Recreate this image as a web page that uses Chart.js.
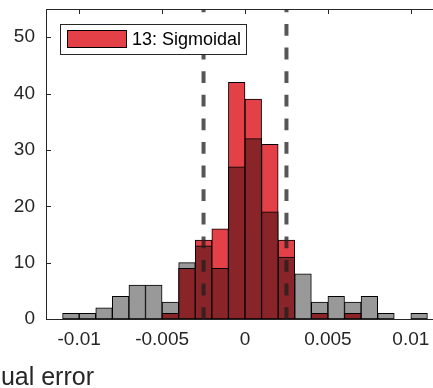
<!DOCTYPE html>
<html>
<head>
<meta charset="utf-8">
<script src="https://cdn.jsdelivr.net/npm/chart.js@4"></script>
<style>
  html, body { margin: 0; padding: 0; background: #fff; overflow: hidden; }
  #wrap { width: 433px; height: 388px; overflow: hidden; }
</style>
</head>
<body>
<div id="wrap"><canvas id="histChart" width="460" height="388"></canvas></div>
<script>
// histogram bins (centre of each 0.001 wide bin)
const binCenters = [-0.0105, -0.0095, -0.0085, -0.0075, -0.0065, -0.0055, -0.0045, -0.0035, -0.0025, -0.0015, -0.0005,
                    0.0005, 0.0015, 0.0025, 0.0035, 0.0045, 0.0055, 0.0065, 0.0075, 0.0085, 0.0095, 0.0105];
// grey: all models, red: 13 sigmoidal
const allCounts     = [1, 1, 2, 4, 6, 6, 3, 10, 13, 9, 27, 32, 19, 11, 8, 3, 4, 3, 4, 1, 0, 1];
const sigmoidCounts = [0, 0, 0, 0, 0, 0, 1, 9, 14, 16, 42, 39, 31, 14, 0, 1, 0, 1, 0, 0, 0, 0];
const thresholds = [-0.0025, 0.0025];

const xTicks = [-0.01, -0.005, 0, 0.005, 0.01];
const xTickLabels = ["-0.01", "-0.005", "0", "0.005", "0.01"];
const yTicks = [0, 10, 20, 30, 40, 50];
const seriesName = "13: Sigmoidal";
const xTitle = "Residual error";

const RED = "rgb(228,64,72)";
const DARK = "rgb(137,36,41)";
const GREY = "rgb(153,153,153)";
const AXIS = "#262626";
const FONT = "'Liberation Sans', Arial, sans-serif";

function toBars(counts) {
    return binCenters.map((c, i) => ({ x: c, y: counts[i] === 0 ? null : counts[i] }));
}
const overlap = allCounts.map((v, i) => Math.min(v, sigmoidCounts[i]));

function dashLine(v) {
    return {
        type: "line",
        data: [{ x: v, y: 0 }, { x: v, y: 55 }],
        borderColor: "rgba(30,30,30,0.75)",
        borderWidth: 4,
        borderDash: [11.8, 11.8],
        pointRadius: 0,
        order: 1
    };
}

// axes box, inward ticks, legend and the x label
const framePlugin = {
    id: "frame",
    beforeDatasetsDraw(chart) {
        const { ctx, chartArea: a, scales: { x, y } } = chart;
        ctx.save();
        ctx.strokeStyle = AXIS;
        ctx.lineWidth = 1;
        ctx.strokeRect(a.left + 0.5, a.top + 0.5, a.right - a.left, a.bottom - a.top);
        ctx.beginPath();
        xTicks.forEach(v => {
            const px = Math.round(x.getPixelForValue(v)) + 0.5;
            ctx.moveTo(px, a.bottom); ctx.lineTo(px, a.bottom - 5);
            ctx.moveTo(px, a.top); ctx.lineTo(px, a.top + 5);
        });
        yTicks.forEach(v => {
            const py = Math.round(y.getPixelForValue(v)) + 0.5;
            ctx.moveTo(a.left, py); ctx.lineTo(a.left + 5, py);
            ctx.moveTo(a.right, py); ctx.lineTo(a.right - 5, py);
        });
        ctx.stroke();
        ctx.restore();
    },
    afterDatasetsDraw(chart) {
        const { ctx, chartArea: a } = chart;
        const bx = a.left + 14, by = a.top + 15;
        ctx.save();
        ctx.fillStyle = "#fff";
        ctx.fillRect(bx, by, 186, 30);
        ctx.strokeStyle = AXIS;
        ctx.lineWidth = 1;
        ctx.strokeRect(bx + 0.5, by + 0.5, 186, 30);
        ctx.fillStyle = RED;
        ctx.fillRect(bx + 7, by + 6, 60, 18);
        ctx.strokeStyle = "#000";
        ctx.strokeRect(bx + 7.5, by + 6.5, 59, 17);
        ctx.fillStyle = "#000";
        ctx.font = "18px " + FONT;
        ctx.textBaseline = "middle";
        ctx.fillText(seriesName, bx + 72, by + 16);
        ctx.restore();
    },
    afterDraw(chart) {
        const ctx = chart.ctx;
        ctx.save();
        ctx.fillStyle = AXIS;
        ctx.font = "25px " + FONT;
        ctx.textAlign = "right";
        ctx.fillText(xTitle, 94, 385);
        ctx.restore();
    }
};

new Chart(document.getElementById("histChart"), {
    type: "bar",
    data: {
        datasets: [
            dashLine(thresholds[0]),
            dashLine(thresholds[1]),
            { label: "overlap", data: toBars(overlap), backgroundColor: DARK, order: 2 },
            { label: seriesName, data: toBars(sigmoidCounts), backgroundColor: RED, order: 3 },
            { label: "all", data: toBars(allCounts), backgroundColor: GREY, order: 4 }
        ]
    },
    options: {
        responsive: false,
        animation: false,
        layout: { padding: { top: 9, right: 16, left: 0, bottom: 0 } },
        plugins: { legend: { display: false }, tooltip: { enabled: false } },
        datasets: {
            bar: {
                grouped: false,
                barPercentage: 1,
                categoryPercentage: 1,
                borderColor: "#000",
                borderWidth: 1,
                borderSkipped: false
            }
        },
        scales: {
            x: {
                type: "linear",
                offset: false,
                min: -0.012,
                max: 0.012,
                afterBuildTicks: s => { s.ticks = xTicks.map(v => ({ value: v })); },
                afterFit: s => { s.height = 69; s.paddingLeft = 0; s.paddingRight = 0; },
                grid: { display: false, drawTicks: false },
                border: { display: false },
                ticks: {
                    autoSkip: false,
                    maxRotation: 0,
                    padding: 9,
                    color: AXIS,
                    font: { family: FONT, size: 19 },
                    callback: (v, i) => xTickLabels[i]
                }
            },
            y: {
                min: 0,
                max: 55,
                afterBuildTicks: s => { s.ticks = yTicks.map(v => ({ value: v })); },
                afterFit: s => { s.width = 46; s.paddingTop = 0; s.paddingBottom = 0; },
                grid: { display: false, drawTicks: false },
                border: { display: false },
                ticks: {
                    padding: 11,
                    color: AXIS,
                    font: { family: FONT, size: 19 },
                    callback: v => String(v)
                }
            }
        }
    },
    plugins: [framePlugin]
});
</script>
</body>
</html>
